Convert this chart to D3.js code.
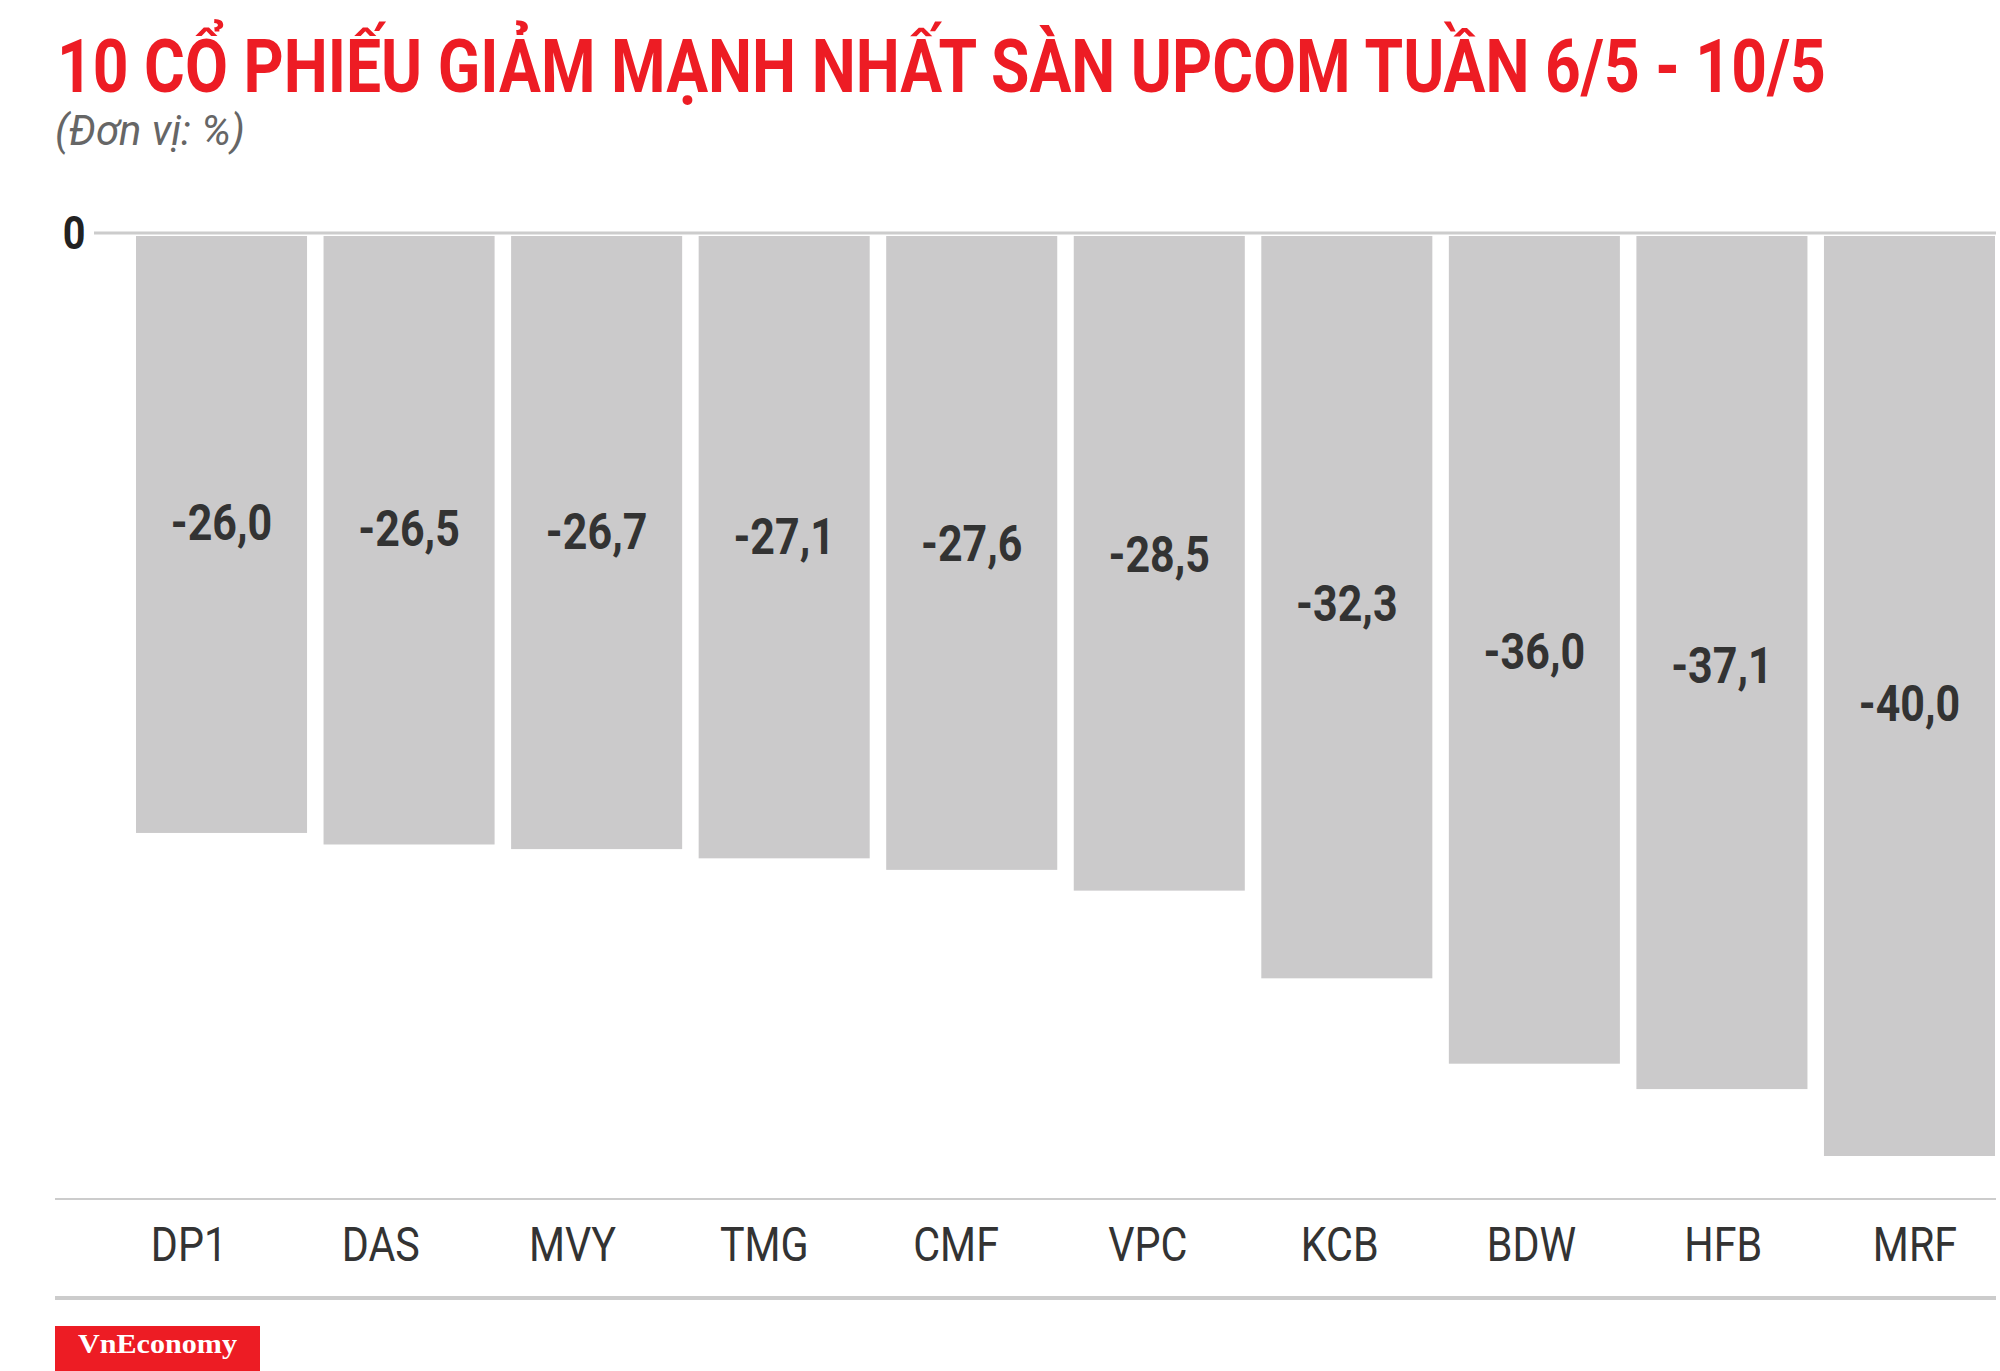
<!DOCTYPE html>
<html>
<head>
<meta charset="utf-8">
<script src="https://cdn.jsdelivr.net/npm/d3@7/dist/d3.min.js"></script>
<style>
  html, body { margin: 0; padding: 0; background: #fff; }
  svg { display: block; }
</style>
</head>
<body>
<svg id="chart" width="2000" height="1371"></svg>
<script>
const titleText = "10 CỔ PHIẾU GIẢM MẠNH NHẤT SÀN UPCOM TUẦN 6/5 - 10/5";
const subtitleText = "(Đơn vị: %)";
const categories = ["DP1", "DAS", "MVY", "TMG", "CMF", "VPC", "KCB", "BDW", "HFB", "MRF"];
const values = [-26.0, -26.5, -26.7, -27.1, -27.6, -28.5, -32.3, -36.0, -37.1, -40.0];
const yTicks = [0];
const sourceText = "VnEconomy";

const W = 2000, H = 1371;
const svg = d3.select("#chart");
const condensed = 0.86;
const fmt = v => d3.format(".1f")(v).replace(".", ",").replace("−", "-");

// Fit a text horizontally to a target width with a scaleX transform
function fitText(sel, x0, y0, width) {
  const len = sel.node().getComputedTextLength();
  sel.attr("x", 0).attr("y", 0)
     .attr("transform", `translate(${x0},${y0}) scale(${width / len},1)`);
}

// Title
const title = svg.append("text")
  .attr("font-family", "Roboto, sans-serif")
  .attr("font-weight", 700)
  .attr("font-size", 74)
  .attr("fill", "#ED1C24")
  .text(titleText);
fitText(title, 57, 92, 1769);

// Subtitle
const sub = svg.append("text")
  .attr("font-family", "Roboto, sans-serif")
  .attr("font-style", "italic")
  .attr("font-weight", 400)
  .attr("font-size", 42)
  .attr("fill", "#666666")
  .text(subtitleText);
fitText(sub, 55, 145, 190);

// Scales
const x = d3.scaleBand()
  .domain(categories)
  .range([136, 1995])
  .paddingInner(0.088)
  .paddingOuter(0);

const y = d3.scaleLinear()
  .domain([0, -40])
  .range([233, 1156]);

const xLabel = d3.scalePoint()
  .domain(categories)
  .range([189, 1915]);

// Zero line
svg.append("g").selectAll("line").data(yTicks).join("line")
  .attr("x1", 94).attr("x2", 1996)
  .attr("y1", d => y(d)).attr("y2", d => y(d))
  .attr("stroke", "#CCCCCC").attr("stroke-width", 3);

// Y tick label
svg.append("g").selectAll("text").data(yTicks).join("text")
  .attr("transform", d => `translate(74,${y(d)}) scale(${condensed},1)`)
  .attr("text-anchor", "middle")
  .attr("dominant-baseline", "central")
  .attr("font-family", "Roboto, sans-serif")
  .attr("font-weight", 700)
  .attr("font-size", 46)
  .attr("fill", "#222222")
  .text(d => d);

// Bars
svg.append("g").selectAll("rect").data(values).join("rect")
  .attr("x", (d, i) => x(categories[i]))
  .attr("width", x.bandwidth())
  .attr("y", y(0) + 3)
  .attr("height", d => y(d) - y(0) - 3)
  .attr("fill", "#CBCACB");

// Value labels
svg.append("g").selectAll("text").data(values).join("text")
  .attr("transform", (d, i) => `translate(${x(categories[i]) + x.bandwidth() / 2},${y(d * 0.56 + 2.0)}) scale(${condensed},1)`)
  .attr("text-anchor", "middle")
  .attr("dominant-baseline", "central")
  .attr("font-family", "Roboto, sans-serif")
  .attr("font-weight", 700)
  .attr("font-size", 50)
  .attr("fill", "#333333")
  .text(d => fmt(d));

// Axis separator lines
svg.append("line")
  .attr("x1", 55).attr("x2", 1996)
  .attr("y1", 1199).attr("y2", 1199)
  .attr("stroke", "#CCCCCC").attr("stroke-width", 2);

svg.append("line")
  .attr("x1", 55).attr("x2", 1996)
  .attr("y1", 1298).attr("y2", 1298)
  .attr("stroke", "#CCCCCC").attr("stroke-width", 4);

// Category labels
svg.append("g").selectAll("text").data(categories).join("text")
  .attr("transform", d => `translate(${xLabel(d)},1261) scale(${condensed},1)`)
  .attr("text-anchor", "middle")
  .attr("font-family", "Roboto, sans-serif")
  .attr("font-weight", 400)
  .attr("font-size", 48)
  .attr("fill", "#333333")
  .text(d => d);

// Source logo
svg.append("rect")
  .attr("x", 55).attr("y", 1326)
  .attr("width", 205).attr("height", H - 1326)
  .attr("fill", "#ED1C24");

const logo = svg.append("text")
  .attr("font-family", "'Liberation Serif', 'Times New Roman', serif")
  .attr("font-weight", 700)
  .attr("font-size", 28)
  .attr("fill", "#FFFFFF")
  .text(sourceText);
fitText(logo, 78, 1353, 159);
</script>
</body>
</html>
